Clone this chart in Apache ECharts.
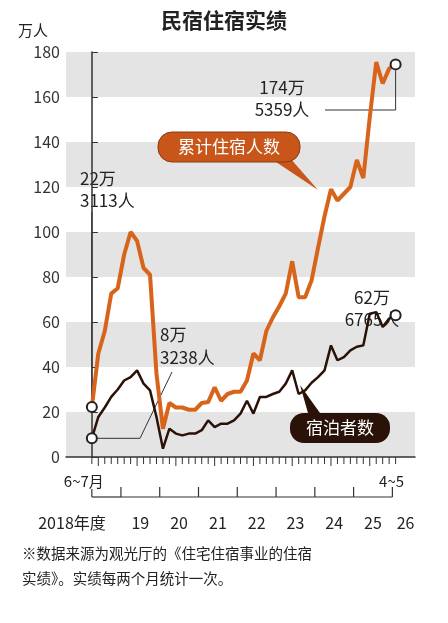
<!DOCTYPE html><html><head><meta charset="utf-8">
<script src="https://cdn.jsdelivr.net/npm/echarts@6/dist/echarts.min.js"></script>
<style>body{margin:0;background:#fff}#c{width:448px;height:623px}</style></head><body><div id="c"></div>
<script>
const periods = Array.from({length:48},(_, i)=>i);
const guestNights = [22.2,46,56,72.6,75,90,100,96,84,81,37,12.6,24,22,22,21,21,24,24.4,31,25,28,29,29,34,46,43,56,62,67,72.6,87,71,71,78.5,93,107,119,114,117,120,132,124,151,175.5,166,172.6,174.5];
const guests = [8.3,17.8,22,26.7,30,34,35.5,38.5,32.6,29.6,17.8,3.7,12.6,10.4,9.6,10.4,10.4,11.9,16.3,13.3,14.8,14.8,16.3,19.3,25,19.3,26.7,26.7,28,29,32.6,38.5,28,29.6,33,35.5,38.5,49.6,43,44.4,47.4,49,49.6,63.7,64.4,57.8,61.5,63];
const yearLabels = ['2018年度','19','20','21','22','23','24','25','26'];
const yearStart = [0,5,11,17,23,29,35,41,47];
const ff = '"Noto Sans CJK SC","Noto Sans",sans-serif';
const last = periods.length-1;
const pairs = arr => arr.map((v,i)=>[periods[i],v]);
const sym = (v,p)=> (p.dataIndex===0||p.dataIndex===last)?10:0;
const chart = echarts.init(document.getElementById('c'));
chart.setOption({
  animation:false,
  grid:{left:66,right:33,top:52,bottom:166},
  xAxis:{type:'value',min:-4,max:50,interval:1,axisLine:{lineStyle:{color:'#333',width:1.5}},
    axisTick:{show:false},axisLabel:{show:false},splitLine:{show:false}},
  yAxis:{type:'value',min:0,max:180,interval:20,axisLine:{show:true,lineStyle:{color:'#333',width:1.5}},
    axisTick:{show:true,inside:true,length:6,lineStyle:{color:'#333'}},
    axisLabel:{fontSize:16,color:'#333',fontFamily:ff,margin:6},splitLine:{show:false},
    splitArea:{show:true,areaStyle:{color:['#e4e4e4','#ffffff']}}},
  series:[
    {type:'line',data:pairs(guestNights),symbol:'circle',showSymbol:true,symbolSize:sym,itemStyle:{color:'#fff',borderColor:'#222',borderWidth:2},lineStyle:{color:'#d8641c',width:4},z:3},
    {type:'line',data:pairs(guests),symbol:'circle',showSymbol:true,symbolSize:sym,itemStyle:{color:'#fff',borderColor:'#222',borderWidth:2},lineStyle:{color:'#2a1208',width:2.5},z:4}
  ]
});
const P=(i,v)=>chart.convertToPixel({xAxisIndex:0,yAxisIndex:0},[i,v]);
const g=[];
const T=(x,y,t,o={})=>g.push({type:'text',x,y,style:Object.assign({text:t,font:(o.w||'normal')+' '+(o.s||16)+'px '+ff,fill:o.c||'#222',align:o.a||'left',verticalAlign:'middle',lineHeight:o.lh||20},o.st||{})});
const L=(x1,y1,x2,y2,w)=>g.push({type:'line',shape:{x1,y1,x2,y2},style:{stroke:'#333',lineWidth:w||1.2}});
T(224,20,'民宿住宿实绩',{s:21,w:'bold',a:'center'});
T(18,30,'万人',{s:15});
const y0=P(0,0)[1];
periods.forEach(i=>{const x=P(i,0)[0];L(x,y0,x,y0+(i%6===1?9:7),1);});
const rowY=y0+40;
for(let k=1;k<yearStart.length;k++){
  const xb=P(yearStart[k]-0.5,0)[0];
  L(xb,rowY-10,xb,rowY);
  if(k<yearStart.length-1) L(xb,rowY,P(yearStart[k+1]-0.5,0)[0],rowY);
}
const xs=P(0,0)[0];
L(xs,y0+32,xs,rowY); L(xs,rowY,P(yearStart[1]-0.5,0)[0],rowY);
T(xs-8,y0+24,'6~7月',{s:15,a:'center'});
T(P(last,0)[0]-4,y0+24,'4~5',{s:15,a:'center'});
for(let k=0;k<yearLabels.length;k++){
  let cx = k===0?72:(k===yearLabels.length-1?P(last,0)[0]+10:(P(yearStart[k]-0.5,0)[0]+P(yearStart[k+1]-0.5,0)[0])/2);
  T(cx,rowY+26,yearLabels[k],{s:16,a:'center'});
}
const a0=P(0,guestNights[0]), b0=P(0,guests[0]);
T(80,190,'22万\n3113人',{s:17,lh:22});
L(a0[0],212,a0[0],a0[1]-6,1);
T(160,335,'8万',{s:17});
T(160,358,'3238人',{s:17});
g.push({type:'polyline',shape:{points:[[b0[0]+5,b0[1]],[140,b0[1]],[172,372]]},style:{stroke:'#333',fill:null,lineWidth:1}});
const aE=P(last,guestNights[last]);
T(282,88,'174万',{s:17,a:'center'});
T(282,110,'5359人',{s:17,a:'center'});
g.push({type:'polyline',shape:{points:[[325,110],[aE[0],110],[aE[0],aE[1]+6]]},style:{stroke:'#333',fill:null,lineWidth:1}});
T(372,298,'62万',{s:17,a:'center'});
T(372,320,'6765人',{s:17,a:'center'});
g.push({type:'polygon',shape:{points:[[270,158],[290,158],[318,190]]},style:{fill:'#c8561a'}});
g.push({type:'rect',shape:{x:158,y:132,width:142,height:30,r:14},style:{fill:'#c8561a',stroke:'#8a3a10',lineWidth:1}});
T(229,147,'累计住宿人数',{s:17,c:'#fff',a:'center'});
g.push({type:'polygon',shape:{points:[[310,420],[325,420],[300,385]]},style:{fill:'#2a1208'}});
g.push({type:'rect',shape:{x:290,y:413,width:100,height:30,r:14},style:{fill:'#2a1208'}});
T(340,428,'宿泊者数',{s:17,c:'#fff',a:'center'});
T(22,553,'※数据来源为观光厅的《住宅住宿事业的住宿',{s:14.5});
T(22,578,'实绩》。实绩每两个月统计一次。',{s:14.5});
chart.setOption({graphic:g});
</script></body></html>
